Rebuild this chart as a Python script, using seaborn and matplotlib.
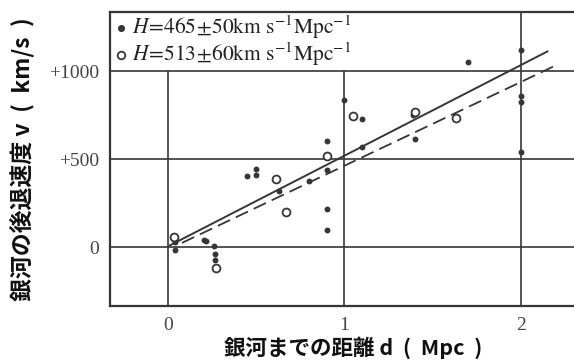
import matplotlib
matplotlib.use("Agg")
import pandas as pd
import matplotlib.pyplot as plt
import seaborn as sns

# 距離 d (Mpc) と後退速度 v (km/s) -- 図から読み取った値
filled_d = [0.04, 0.04, 0.205, 0.215, 0.26, 0.27, 0.27, 0.45, 0.50, 0.50, 0.63,
            0.80, 0.90, 0.90, 0.90, 0.90, 1.00, 1.10, 1.10, 1.39, 1.40, 1.70,
            2.00, 2.00, 2.00, 2.00]
filled_v = [30, -18, 42, 36, 5, -37, -72, 402, 447, 412, 322,
            378, 602, 439, 218, 99, 837, 730, 571, 750, 616, 1052,
            1120, 858, 822, 538]
open_d = [0.035, 0.275, 0.61, 0.67, 0.90, 1.05, 1.40, 1.63]
open_v = [60, -115, 386, 203, 519, 747, 765, 736]

# 回帰直線 (端点)
solid_d = [0.01, 2.15]
solid_v = [10, 1112]
dash_d = [0.08, 2.20]
dash_v = [25, 1034]

xticks = [0, 1, 2]
xtick_labels = ["0", "1", "2"]
yticks = [0, 500, 1000]
ytick_labels = ["0", "+500", "+1000"]

label_filled = r"$H\!=\!465\!\pm\!50\mathrm{km\ s^{-1}Mpc^{-1}}$"
label_open = r"$H\!=\!513\!\pm\!60\mathrm{km\ s^{-1}Mpc^{-1}}$"
xlabel = "銀河までの距離 d  (  Mpc  )"
ylabel = "銀河の後退速度 v  (  km/s  )"

sns.set_style("white")
plt.rcParams["font.family"] = ["Noto Sans CJK JP", "DejaVu Sans"]
plt.rcParams["mathtext.fontset"] = "stix"

ink = "#363636"
fig = plt.figure(figsize=(5.74, 3.62), dpi=100)
ax = fig.add_axes([110 / 574, 1 - 306 / 362, 470 / 574, 294 / 362])
ax.set_xlim(-0.327, 2.333)
ax.set_ylim(-333, 1335)

# 格子線 (凡例の部分は x=0,1 の線が切れている)
legend_right = 1.5
for x in xticks:
    top = 1000 if x < legend_right else 1335
    ax.vlines(x, -333, top, color=ink, lw=1.2, zorder=1)
for y in yticks:
    ax.axhline(y, color=ink, lw=1.2, zorder=1)

sns.lineplot(x=solid_d, y=solid_v, ax=ax, color=ink, lw=1.4, zorder=3)
sns.lineplot(x=dash_d, y=dash_v, ax=ax, color=ink, lw=1.3, zorder=3,
             dashes=False, linestyle=(0, (7.5, 3.5)))

df_f = pd.DataFrame({"d": filled_d, "v": filled_v})
df_o = pd.DataFrame({"d": open_d, "v": open_v})
sns.scatterplot(data=df_f, x="d", y="v", ax=ax, s=18, color=ink,
                edgecolor=ink, linewidth=0, label=label_filled, zorder=4)
sns.scatterplot(data=df_o, x="d", y="v", ax=ax, s=32, facecolor="white",
                edgecolor=ink, linewidth=1.3, label=label_open, zorder=5)

leg = ax.legend(loc="upper left", frameon=False, fontsize=15.5,
                handletextpad=0.05, handlelength=0.9, labelspacing=0.0,
                borderaxespad=0.0, borderpad=0.05)
leg.legend_handles[0].set_sizes([26])
leg.legend_handles[1].set_sizes([30])
for t in leg.get_texts():
    t.set_color("#222222")

ax.set_xticks(xticks)
ax.set_xticklabels(xtick_labels)
ax.set_yticks(yticks)
ax.set_yticklabels(ytick_labels)
ax.tick_params(length=0, pad=8, labelsize=14, colors="#444444")
for lab in ax.get_xticklabels() + ax.get_yticklabels():
    lab.set_family("Liberation Serif")

for sp in ax.spines.values():
    sp.set_color(ink)
    sp.set_linewidth(1.6)

ax.set_xlabel(xlabel, fontsize=15.5, fontweight="bold", color="#111111")
ax.set_ylabel(ylabel, fontsize=16.5, fontweight="bold", color="#111111")
ax.xaxis.label.set_va("center")
ax.yaxis.label.set_va("center")
ax.xaxis.set_label_coords((353 - 110) / 470, (306 - 348) / 294)
ax.yaxis.set_label_coords((22 - 110) / 470, 0.5)

fig.savefig("out.png", dpi=100)
